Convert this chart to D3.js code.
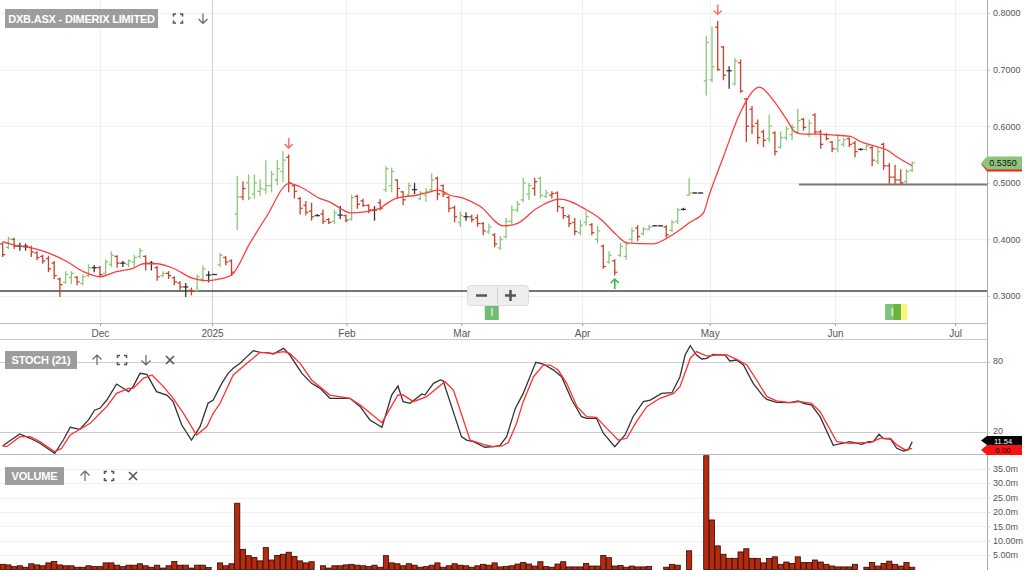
<!DOCTYPE html>
<html><head><meta charset="utf-8">
<script src="https://cdn.jsdelivr.net/npm/d3@7"></script>
<style>
html,body{margin:0;padding:0;background:#fff;overflow:hidden}
svg{display:block;font-family:"Liberation Sans",Arial,sans-serif}
</style></head><body>
<svg id="c" width="1024" height="570"></svg>
<script>
// ---------------- DATA ----------------
const title = "DXB.ASX - DIMERIX LIMITED";
// [open, high, low, close] per trading slot
const ohlc = [
[.392,.394,.370,.373],[.386,.404,.384,.401],[.400,.402,.384,.388],[.388,.393,.381,.388],[.388,.392,.381,.388],
[.386,.388,.370,.378],[.376,.378,.364,.368],[.370,.372,.358,.362],[.366,.370,.343,.348],[.358,.361,.331,.336],
[.330,.332,.299,.320],[.324,.343,.322,.338],[.333,.343,.322,.340],[.333,.334,.320,.325],[.322,.337,.320,.334],
[.336,.355,.334,.350],[.350,.354,.343,.350],[.350,.352,.334,.338],[.340,.364,.337,.360],[.356,.378,.352,.372],
[.370,.371,.351,.358],[.358,.361,.352,.358],[.356,.364,.352,.362],[.360,.372,.352,.368],[.370,.384,.367,.380],
[.370,.371,.346,.358],[.358,.361,.346,.358],[.350,.352,.328,.334],[.336,.343,.334,.340],[.340,.343,.331,.336],
[.332,.334,.320,.325],[.323,.325,.311,.316],[.316,.322,.299,.316],[.310,.314,.302,.308],[.310,.337,.308,.334],
[.330,.353,.325,.348],[.337,.343,.325,.337],[.338,.338,.338,.338],[.355,.375,.352,.372],[.368,.370,.355,.360],
[.362,.364,.337,.342],[.445,.511,.417,.475],[.475,.502,.470,.490],[.500,.514,.470,.473],[.480,.514,.473,.500],
[.485,.505,.478,.490],[.488,.539,.481,.495],[.495,.520,.484,.515],[.505,.539,.496,.525],[.520,.555,.502,.540],
[.545,.549,.484,.500],[.495,.496,.473,.485],[.472,.474,.445,.455],[.460,.467,.443,.448],[.450,.464,.434,.440],
[.442,.444,.442,.442],[.445,.452,.428,.432],[.435,.437,.428,.430],[.432,.452,.428,.447],[.443,.458,.437,.443],
[.442,.443,.431,.434],[.436,.478,.434,.474],[.476,.478,.455,.462],[.468,.471,.458,.460],[.460,.461,.447,.452],
[.452,.458,.434,.452],[.465,.470,.452,.455],[.488,.529,.484,.525],[.495,.526,.484,.520],[.505,.505,.473,.490],
[.484,.484,.461,.470],[.478,.499,.476,.495],[.488,.499,.481,.488],[.472,.484,.470,.482],[.478,.490,.467,.485],
[.488,.516,.484,.505],[.508,.510,.470,.480],[.495,.496,.476,.480],[.474,.476,.449,.455],[.456,.459,.431,.440],
[.430,.449,.423,.442],[.440,.447,.434,.440],[.440,.443,.431,.435],[.438,.443,.423,.428],[.428,.430,.408,.415],
[.413,.427,.411,.422],[.408,.410,.387,.392],[.385,.405,.382,.400],[.405,.437,.402,.432],[.432,.459,.428,.452],
[.452,.467,.449,.462],[.470,.508,.467,.500],[.480,.499,.470,.495],[.490,.508,.478,.502],[.508,.510,.473,.478],
[.476,.487,.474,.482],[.478,.484,.473,.481],[.482,.484,.449,.458],[.456,.457,.437,.442],[.440,.443,.423,.428],
[.430,.437,.408,.414],[.412,.434,.408,.425],[.430,.449,.425,.440],[.426,.428,.408,.412],[.400,.423,.394,.415],
[.388,.390,.349,.352],[.360,.378,.358,.372],[.362,.364,.337,.342],[.372,.393,.370,.388],[.370,.396,.365,.392],
[.400,.420,.396,.415],[.420,.424,.398,.405],[.410,.421,.408,.418],[.418,.425,.417,.422],[.424,.424,.424,.424],
[.424,.424,.424,.424],[.422,.424,.404,.408],[.416,.434,.414,.430],[.432,.455,.428,.452],[.453,.455,.452,.453],
[.478,.508,.478,.482],[.482,.482,.482,.482],[.482,.482,.482,.482],[.680,.759,.655,.748],[.682,.775,.679,.705],
[.775,.785,.699,.700],[.740,.741,.682,.690],[.698,.705,.667,.698],[.675,.720,.673,.715],[.712,.717,.660,.662],
[.648,.649,.573,.600],[.630,.635,.587,.600],[.605,.611,.569,.580],[.590,.593,.564,.575],[.578,.620,.573,.600],
[.588,.590,.549,.555],[.563,.590,.561,.580],[.580,.599,.576,.595],[.585,.602,.576,.598],[.590,.630,.587,.610],
[.612,.614,.593,.598],[.585,.611,.582,.605],[.620,.622,.587,.590],[.590,.593,.561,.568],[.585,.587,.576,.578],
[.572,.573,.555,.560],[.560,.582,.555,.575],[.568,.579,.564,.576],[.578,.579,.564,.568],[.570,.573,.546,.555],
[.559,.560,.558,.559],[.559,.567,.558,.565],[.562,.564,.530,.540],[.538,.561,.534,.555],[.568,.570,.524,.530],
[.530,.534,.499,.510],[.510,.531,.499,.505],[.505,.523,.499,.500],[.502,.523,.499,.520],[.522,.537,.520,.535]
];
// g = up (green), r = down (red), k = unchanged (black)
const barColor =
 "rgrkkrrrrr"+"rggrggkrgg"+"rkgggrkrgr"+"rrkrggkkgr"+"rgrggggggg"+
 "rrrrrkrrgk"+"rgrrrkrggr"+"rgkgggrrrr"+"gkrrrgrggg"+"gggrggrrrr"+
 "rggrgrgrgg"+"grggkkrggk"+"gkkggrrkgr"+"rrrrgrgggg"+"rgrrrrggrr"+"kgrgrrrrgg";
// volume in millions
const volume = [
1.8,1.6,1.0,1.3,0.8,2.0,1.6,1.3,2.3,2.8, 1.6,1.3,1.3,0.8,0.8,1.3,1.0,1.0,2.3,2.3,
1.5,1.0,1.5,1.5,2.0,1.3,0.8,1.5,0.5,1.3, 2.8,1.5,1.5,0.5,1.5,1.5,0.7,0,2.3,1.3,
2.0,23,7.0,4.8,4.2,3.0,7.6,3.3,4.9,5.3, 6.0,4.5,3.0,2.3,2.7,0,1.3,0.5,1.3,1.3,
1.6,1.8,1.5,1.3,1.0,1.5,0.8,4.8,2.3,2.0, 1.3,2.0,1.5,0.8,1.0,1.5,2.3,0.8,1.3,2.0,
1.5,1.3,0.8,1.3,1.8,1.5,2.3,0.9,1.1,1.3, 1.9,2.4,1.9,1.2,2.7,1.0,0.8,1.9,2.7,0.9,
0.9,0.9,2.1,1.2,1.2,4.9,4.1,1.2,1.4,0.8, 1.2,0.9,0.9,1.1,0,0,0.8,1.8,1.5,0,
6.5,0,0,39.5,17.2,8.2,5.3,3.9,3.9,6.1, 7.2,3.9,3.8,2.3,3.8,4.4,1.8,2.6,2.1,4.4,
2.4,2.4,3.3,2.6,1.8,1.2,0.9,0.9,0.9,1.8, 0,0.8,2.4,1.2,2.1,2.9,1.8,1.2,2.4,0.8
];
// moving average [slot, value]
const maLine = [[0,.396],[2,.390],[5.4,.384],[8.3,.375],[11.2,.361],[14.1,.343],[17,.334],[19.9,.343],[22.8,.349],[24.6,.357],
[26.9,.357],[29.8,.349],[33.3,.331],[35.7,.327],[37.4,.329],[40,.337],[43.2,.393],[46.1,.440],[50.1,.499],[52,.493],
[55.5,.472],[57.2,.466],[59,.455],[60.7,.447],[66,.455],[66.8,.461],[68.9,.473],[72.4,.478],[74.7,.484],[76.2,.487],
[78.2,.478],[80.5,.473],[83.5,.458],[87.5,.424],[89.9,.428],[93.4,.455],[97.4,.471],[102.1,.452],[104.4,.437],[107.3,.408],
[109.1,.394],[113.7,.392],[116.1,.402],[118.4,.417],[120.1,.430],[122.5,.447],[123.5,.478],[126,.546],[128.9,.623],[132.3,.669],
[134.7,.646],[137.1,.611],[138.5,.590],[140,.586],[142.9,.586],[145.8,.584],[148.2,.582],[149.9,.573],[152.8,.564],[154.6,.558],
[156.3,.546],[159,.530]];
// stochastic %K and %D [slot, value]
const stochK = [[0,8],[1,11.7],[3,18.3],[4.8,14.6],[6.5,10.3],[9.1,1.7],[10.6,13.1],[11.8,24],[13.5,22.3],[15,30.3],
[16.1,38.9],[17,40.3],[18.2,47.4],[19.9,61.1],[22,54.6],[22.8,58.9],[24,70.3],[25.2,69.4],[26.9,54.6],[28.7,51.7],
[29.8,46],[31.3,26],[33,13.1],[34.5,24.6],[35.9,44.6],[36.8,47.4],[38.3,61.7],[39.4,70.3],[40.3,74.6],[41.5,78.9],
[42.7,84.6],[43.8,89.7],[45,88.3],[46.2,88],[47.3,86.9],[49.1,91.7],[50.2,86],[52.3,70.3],[54,61.7],[55.5,57.4],
[57.2,48.9],[60.7,48.9],[62.5,41.7],[64.2,30.3],[66.3,24],[68,51.7],[69.1,59.4],[70,46],[71.2,44.6],[73.3,52.6],
[73.8,51.7],[75.3,61.7],[76.5,64.6],[77,64],[80.2,16],[81.1,13.1],[82.3,11.7],[84.3,6.9],[85.8,7.4],[86.9,8.3],
[88.1,16],[89.6,40],[91,53.1],[93.2,79.7],[94.5,78.3],[96.3,73.1],[97.7,67.4],[99.5,47.4],[101.2,33.1],[102.1,31.7],
[103.8,31.7],[105,18.9],[107,7.4],[108.8,17.4],[110.2,33.1],[112,46],[113.2,47.4],[115.2,53.1],[117,53.7],[118.4,67.4],
[119.3,86],[120.2,94],[121.3,86],[122.2,82.6],[123.1,83.1],[124.2,86.6],[126.3,86],[127.1,80.9],[128.3,81.7],[129.5,77.4],
[131.2,61.7],[133,50.3],[133.6,48],[135.3,45.4],[137.6,45.1],[139.1,46.6],[140,44.6],[141.4,43.1],[142.9,33.1],[145.2,8.6],
[148.1,11.7],[150.2,9.4],[151.3,11.7],[152.2,11.7],[153.2,18],[154,14.3],[155.2,14],[156.3,6],[157.5,3.7],[158.3,4.6],[159,11.5]];
const stochD = [[0,8],[0.7,7.4],[3,16],[4.8,16],[6.5,11.7],[9.1,3.1],[10.3,6],[11.8,17.4],[13.5,22.3],[15.3,27.4],
[17,36],[18.2,41.7],[19.9,53.1],[22,57.4],[22.8,57.4],[24.6,66],[26.1,68.9],[28.1,58.9],[29.8,48.9],[31.6,36],
[33.9,17.4],[35.7,24.6],[36.8,36],[38,44.6],[40.3,68.9],[42.7,78.9],[45,88.3],[47.3,87.4],[49.1,88.9],[50.2,87.4],
[52,78.9],[54,64.6],[57.2,51.7],[60.7,48.9],[62.5,43.1],[66.3,28],[69.1,51.7],[70,51.7],[71.8,46],[74.1,50.3],
[77.3,63.1],[78.8,56],[81.7,13.1],[84.3,8.9],[85.8,7.4],[87.3,8],[88.4,11],[89.8,27],[91,46],[92.8,67.4],
[94.5,77.4],[95.7,77.4],[97.1,73.1],[98.6,61.7],[100.4,41.7],[102.1,33.1],[103.8,32.6],[105.6,23.1],[107.6,13.1],[109.1,14.6],
[110.8,28.9],[112.6,41.7],[114.9,48.9],[117.3,53.1],[118.4,58.9],[120.2,83.1],[121.3,88.9],[123.1,85.1],[124.8,86],[126.6,86],
[128.3,82.3],[130.1,77.4],[131.8,64.6],[133.6,50.3],[135.3,46.6],[137.6,45.1],[139.4,46],[141.4,44.6],[142.9,37.4],[145.8,11.7],
[148.1,10.3],[150.5,10.9],[151.6,10.9],[153.4,14.6],[155.2,14.6],[156.3,8.9],[157.8,4.6],[159,6]];
const priceTicks = [0.3,0.4,0.5,0.6,0.7,0.8];
const stochTicks = [20,80];
const volumeTicks = [5,10,15,20,25,30,35];
const volumeTickLabels = ["5.00m","10.00m","15.0m","20.0m","25.0m","30.0m","35.0m"];
const monthSlots = [17,36.6,60.1,80.2,101.3,123.6,145.5,166.5];
const monthLabels = ["Dec","2025","Feb","Mar","Apr","May","Jun","Jul"];
const supportLevel = 0.309;
const resistanceLevel = 0.497, resistanceFrom = 139.2;
const lastPrice = 0.535, lastK = 11.54, lastD = 6.00;
const signalsDown = [50,125];
const signalsUp = [107];
const eventSlots = [85.5, 155.5];

// ---------------- LAYOUT ----------------
const svg = d3.select("#c");
const AX = 987;
const x = d3.scaleLinear().domain([0,159]).range([2.7,912.2]);
const yP = d3.scaleLinear().domain([0.3,0.8]).range([296,13]);
const yS = d3.scaleLinear().domain([0,100]).range([455.3,338.7]);
const yV = d3.scaleLinear().domain([0,35]).range([569.5,468.7]);
const C = {g:"#8cc67a", r:"#c8412a", k:"#333"};

const defs = svg.append("defs");
defs.append("clipPath").attr("id","cm").append("rect").attr("x",0).attr("y",0).attr("width",AX).attr("height",323);
defs.append("clipPath").attr("id","cs").append("rect").attr("x",0).attr("y",339.5).attr("width",AX).attr("height",115);
defs.append("clipPath").attr("id","cv").append("rect").attr("x",0).attr("y",455).attr("width",AX).attr("height",115);

// ---- main grid
const gm = svg.append("g");
gm.selectAll(".hg").data(priceTicks).enter().append("line")
  .attr("x1",0).attr("x2",AX).attr("y1",d=>Math.round(yP(d))+0.5).attr("y2",d=>Math.round(yP(d))+0.5)
  .attr("stroke","#f0f0f0");
gm.selectAll(".vg").data(monthSlots).enter().append("line")
  .attr("x1",d=>Math.round(x(d))+0.5).attr("x2",d=>Math.round(x(d))+0.5).attr("y1",0).attr("y2",323)
  .attr("stroke",(d,i)=>monthLabels[i]==="2025"?"#cfcfcf":"#eeeeee");

// price axis
const pa = svg.append("g").attr("transform",`translate(${AX},0)`)
  .call(d3.axisRight(yP).tickValues(priceTicks).tickFormat(d3.format(".4f")).tickSize(3).tickPadding(3));
pa.select(".domain").remove();
pa.selectAll("line").attr("stroke","#ccc");
pa.selectAll("text").attr("fill","#555").style("font-size","9px");

// date axis
const da = svg.append("g").attr("transform","translate(0,323)")
  .call(d3.axisBottom(x).tickValues(monthSlots).tickFormat((d,i)=>monthLabels[i]).tickSize(3).tickPadding(4));
da.select(".domain").remove();
da.selectAll("line").attr("stroke","#999");
da.selectAll("text").attr("fill","#555").style("font-size","10px");

// panel borders
svg.append("line").attr("x1",0).attr("x2",AX).attr("y1",323.5).attr("y2",323.5).attr("stroke","#bbb");
svg.append("line").attr("x1",0).attr("x2",AX).attr("y1",339.5).attr("y2",339.5).attr("stroke","#ccc");
svg.append("line").attr("x1",0).attr("x2",AX).attr("y1",454.5).attr("y2",454.5).attr("stroke","#bbb");
svg.append("line").attr("x1",AX+0.5).attr("x2",AX+0.5).attr("y1",0).attr("y2",570).attr("stroke","#aaa");

// ---- main marks
const mk = svg.append("g").attr("clip-path","url(#cm)");
mk.append("line").attr("x1",0).attr("x2",AX).attr("y1",yP(supportLevel)).attr("y2",yP(supportLevel))
  .attr("stroke","#444").attr("stroke-width",1.5);
mk.append("line").attr("x1",x(resistanceFrom)).attr("x2",AX).attr("y1",yP(resistanceLevel)).attr("y2",yP(resistanceLevel))
  .attr("stroke","#777").attr("stroke-width",2);

const bars = mk.selectAll(".bar").data(ohlc).enter().append("g")
  .attr("stroke",(d,i)=>C[barColor[i]]||C.k).attr("stroke-width",1.3);
bars.append("line").attr("x1",(d,i)=>x(i)).attr("x2",(d,i)=>x(i))
  .attr("y1",d=>yP(d[1])-0.5).attr("y2",d=>yP(d[2])+0.5);
bars.append("line").attr("x1",(d,i)=>x(i)-2.6).attr("x2",(d,i)=>x(i))
  .attr("y1",d=>yP(d[0])).attr("y2",d=>yP(d[0]));
bars.append("line").attr("x1",(d,i)=>x(i)).attr("x2",(d,i)=>x(i)+2.6)
  .attr("y1",d=>yP(d[3])).attr("y2",d=>yP(d[3]));

mk.append("path").datum(maLine)
  .attr("d",d3.line().x(d=>x(d[0])).y(d=>yP(d[1])).curve(d3.curveMonotoneX))
  .attr("fill","none").attr("stroke","#ff3b3b").attr("stroke-width",1.3);

// signal arrows
function arrow(g,cx,cy,dir,col){
  const s = dir; // 1 = down, -1 = up
  g.append("path").attr("d",`M${cx},${cy-5*s}L${cx},${cy+5*s}M${cx-4},${cy+1*s}L${cx},${cy+5*s}L${cx+4},${cy+1*s}`)
   .attr("fill","none").attr("stroke",col).attr("stroke-width",1.6);
}
signalsDown.forEach(i=>arrow(mk,x(i),yP(ohlc[i][1])-12,1,"#f07878"));
signalsUp.forEach(i=>arrow(mk,x(i),yP(ohlc[i][2])+9,-1,"#33bb44"));

// event markers
eventSlots.forEach((s,k)=>{
  const cx = x(s);
  if(k===0){
    mk.append("rect").attr("x",cx-7).attr("y",304).attr("width",14).attr("height",16).attr("fill","#72bd72");
  } else {
    mk.append("rect").attr("x",cx-7).attr("y",304).attr("width",8).attr("height",16).attr("fill","#7cc27a");
    mk.append("rect").attr("x",cx+1).attr("y",304).attr("width",8).attr("height",16).attr("fill","#6cb33c");
    mk.append("rect").attr("x",cx+9).attr("y",304).attr("width",6).attr("height",16).attr("fill","#f6f77a");
  }
  mk.append("text").attr("x",cx).attr("y",316).attr("text-anchor","middle").attr("fill","#fff")
    .style("font-size","10px").text("I");
});

// zoom control
const zc = svg.append("g");
zc.append("rect").attr("x",467.5).attr("y",285.5).attr("width",61).attr("height",20).attr("rx",3)
  .attr("fill","#eeeeee").attr("stroke","#dddddd");
zc.append("line").attr("x1",476).attr("x2",487).attr("y1",295.5).attr("y2",295.5).attr("stroke","#555").attr("stroke-width",2.5);
zc.append("line").attr("x1",497.5).attr("x2",497.5).attr("y1",287).attr("y2",304).attr("stroke","#d0d0d0");
zc.append("line").attr("x1",505).attr("x2",516).attr("y1",295.5).attr("y2",295.5).attr("stroke","#555").attr("stroke-width",2.5);
zc.append("line").attr("x1",510.5).attr("x2",510.5).attr("y1",290).attr("y2",301).attr("stroke","#555").attr("stroke-width",2.5);

// value tags
function tag(g,cy,h,fill,label,txtCol,shadow,fs){
  const x0=981, x1=1022;
  if(shadow) g.append("path").attr("d",`M${x0},${cy+1}L${x0+6},${cy+h/2+2}L${x1},${cy+h/2+2}L${x1},${cy-h/2+2}Z`).attr("fill",shadow);
  g.append("path").attr("d",`M${x0},${cy}L${x0+6},${cy-h/2}L${x1},${cy-h/2}L${x1},${cy+h/2}L${x0+6},${cy+h/2}Z`).attr("fill",fill);
  g.append("text").attr("x",1003).attr("y",cy+3).attr("text-anchor","middle").attr("fill",txtCol)
    .style("font-size",(fs||9)+"px").text(label);
}
tag(svg,yP(lastPrice),13,"#8dc47c",d3.format(".4f")(lastPrice),"#111","#ee2020");

// ---- header
function headerBox(x0,y0,w,h,label){
  svg.append("rect").attr("x",x0).attr("y",y0).attr("width",w).attr("height",h).attr("fill","#9d9d9d");
  svg.append("text").attr("x",x0+w/2).attr("y",y0+h/2+4).attr("text-anchor","middle").attr("fill","#fff")
    .style("font-size","11px").style("font-weight","bold").style("letter-spacing","-0.2px").text(label);
}
function iconFull(cx,cy){
  const s=4.5,l=2.5;
  svg.append("path").attr("d",
    `M${cx-s},${cy-s+l}V${cy-s}H${cx-s+l}M${cx+s-l},${cy-s}H${cx+s}V${cy-s+l}`+
    `M${cx+s},${cy+s-l}V${cy+s}H${cx+s-l}M${cx-s+l},${cy+s}H${cx-s}V${cy+s-l}`)
    .attr("fill","none").attr("stroke","#555").attr("stroke-width",1.6);
}
function iconArrow(cx,cy,dir){
  const s=dir;
  svg.append("path").attr("d",`M${cx},${cy-5*s}L${cx},${cy+5*s}M${cx-4.5},${cy+0.5*s}L${cx},${cy+5*s}L${cx+4.5},${cy+0.5*s}`)
    .attr("fill","none").attr("stroke","#666").attr("stroke-width",1.2);
}
function iconX(cx,cy){
  svg.append("path").attr("d",`M${cx-4},${cy-4}L${cx+4},${cy+4}M${cx+4},${cy-4}L${cx-4},${cy+4}`)
    .attr("fill","none").attr("stroke","#555").attr("stroke-width",1.6);
}
headerBox(5,9,153,19,title);
iconFull(178,18.5); iconArrow(203,18.5,1);

// ---- stochastic panel
const gs = svg.append("g");
gs.selectAll("line").data(stochTicks).enter().append("line")
  .attr("x1",0).attr("x2",AX).attr("y1",d=>Math.round(yS(d))+0.5).attr("y2",d=>Math.round(yS(d))+0.5)
  .attr("stroke","#cccccc").attr("stroke-width",1.2);
const sa = svg.append("g").attr("transform",`translate(${AX},0)`)
  .call(d3.axisRight(yS).tickValues(stochTicks).tickSize(3).tickPadding(3));
sa.select(".domain").remove();
sa.selectAll("line").attr("stroke","#ccc");
sa.selectAll("text").attr("fill","#555").style("font-size","9px").attr("dy","0.2em");
const sl = svg.append("g").attr("clip-path","url(#cs)");
const lineS = d3.line().x(d=>x(d[0])).y(d=>yS(d[1]));
sl.append("path").datum(stochK).attr("d",lineS).attr("fill","none").attr("stroke","#333").attr("stroke-width",1.3);
sl.append("path").datum(stochD).attr("d",lineS).attr("fill","none").attr("stroke","#ff3030").attr("stroke-width",1.3);
headerBox(5,351,72,18,"STOCH (21)");
iconArrow(97,360,-1); iconFull(122,360); iconArrow(146,360,1); iconX(170,360);
tag(svg,440.5,9,"#000",d3.format(".2f")(lastK),"#fff",null,7.5);
tag(svg,450,10,"#ff1010",d3.format(".2f")(lastD),"#111",null,8);

// ---- volume panel
const gv = svg.append("g");
gv.selectAll("line").data(volumeTicks).enter().append("line")
  .attr("x1",0).attr("x2",AX).attr("y1",d=>Math.round(yV(d))+0.5).attr("y2",d=>Math.round(yV(d))+0.5)
  .attr("stroke","#f0f0f0");
const va = svg.append("g").attr("transform",`translate(${AX},0)`)
  .call(d3.axisRight(yV).tickValues(volumeTicks).tickFormat((d,i)=>volumeTickLabels[i]).tickSize(3).tickPadding(3));
va.select(".domain").remove();
va.selectAll("line").attr("stroke","#ccc");
va.selectAll("text").attr("fill","#555").style("font-size","9px");
const vb = svg.append("g").attr("clip-path","url(#cv)");
vb.selectAll("rect").data(volume.map((v,i)=>[i,v]).filter(d=>d[1]>0)).enter().append("rect")
  .attr("x",d=>x(d[0])-2.6).attr("y",d=>yV(d[1])).attr("width",5.2).attr("height",d=>yV(0)-yV(d[1]))
  .attr("fill","#b8290d").attr("stroke","#2b0a02").attr("stroke-width",0.8);
headerBox(5,467,59,18,"VOLUME");
iconArrow(85,476,-1); iconFull(109,476); iconX(133,476);
</script>
</body></html>
